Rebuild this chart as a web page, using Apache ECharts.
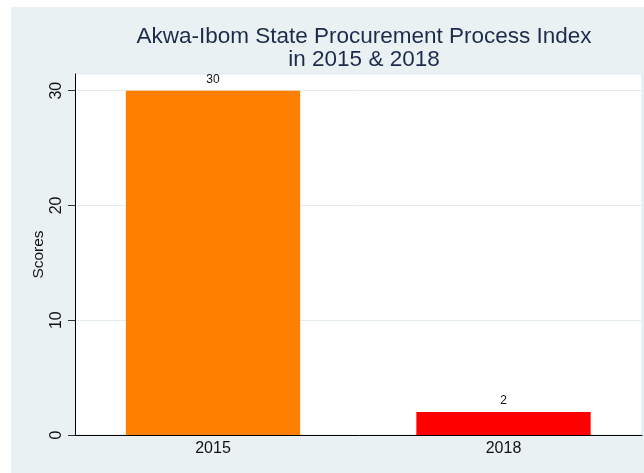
<!DOCTYPE html>
<html><head><meta charset="utf-8">
<script src="https://cdn.jsdelivr.net/npm/echarts@6/dist/echarts.min.js"></script>
<style>html,body{margin:0;padding:0;background:#fff}#c{width:644px;height:473px}</style>
</head><body><div id="c"></div>
<script>
const categories = ['2015', '2018'];
const scores = [30, 2];
const barColors = ['#FF8000', '#FF0000'];
const yTicks = [0, 10, 20, 30];
const titleLines = ['Akwa-Ibom State Procurement Process Index', 'in 2015 & 2018'];
const yName = 'Scores';

const font = 'Liberation Sans, Arial, Helvetica, sans-serif';
const yMax = 31.45;
const chart = echarts.init(document.getElementById('c'), null, {renderer: 'canvas'});
chart.setOption({
  backgroundColor: '#ffffff',
  animation: false,
  graphic: [{type: 'rect', left: 11, top: 7, shape: {width: 633, height: 466}, style: {fill: '#EAF1F3'}, z: -10}],
  title: {
    text: titleLines.join('\n'), left: 359, textAlign: 'center', top: 21, z: 10,
    textStyle: {fontFamily: font, fontSize: 22.5, fontWeight: 'normal', color: '#1c2b4b', lineHeight: 22.5}
  },
  grid: [
    {left: 75, top: 74, right: 2, bottom: 38, show: true, backgroundColor: '#ffffff', borderColor: '#dfe8eb', borderWidth: 1, outerBoundsMode: 'none'},
    {left: 67.75, top: 74, width: 581, bottom: 38, outerBoundsMode: 'none'}
  ],
  xAxis: [
    {gridIndex: 0, type: 'category', data: categories, axisLine: {lineStyle: {color: '#000', width: 1}}, axisTick: {show: false}, axisLabel: {show: false}, z: 5},
    {gridIndex: 1, type: 'category', data: categories, axisLine: {show: false}, axisTick: {show: false},
     axisLabel: {margin: 6, fontFamily: font, fontSize: 16, color: '#111'}}
  ],
  yAxis: [
    {gridIndex: 0, type: 'value', min: 0, max: yMax, interval: 10,
     axisLine: {show: true, lineStyle: {color: '#000', width: 1}},
     axisTick: {show: true, length: 7, customValues: yTicks, lineStyle: {color: '#333'}},
     axisLabel: {customValues: yTicks, rotate: 90, margin: 10, fontFamily: font, fontSize: 16, color: '#111'},
     splitLine: {show: true, lineStyle: {color: '#e3ecef', width: 1}},
     name: yName, nameLocation: 'middle', nameGap: 28, nameRotate: 90, nameMoveOverlap: false,
     nameTextStyle: {fontFamily: font, fontSize: 15.5, color: '#111'}, z: 0},
    {gridIndex: 1, type: 'value', min: 0, max: yMax, interval: 10, show: false}
  ],
  series: [{
    type: 'bar', xAxisIndex: 1, yAxisIndex: 1, barWidth: '60%',
    data: scores.map((v, i) => ({value: v, itemStyle: {color: barColors[i]}})),
    label: {show: true, position: 'top', distance: 5, fontFamily: font, fontSize: 12, color: '#111'},
    z: 3
  }]
});
</script></body></html>
